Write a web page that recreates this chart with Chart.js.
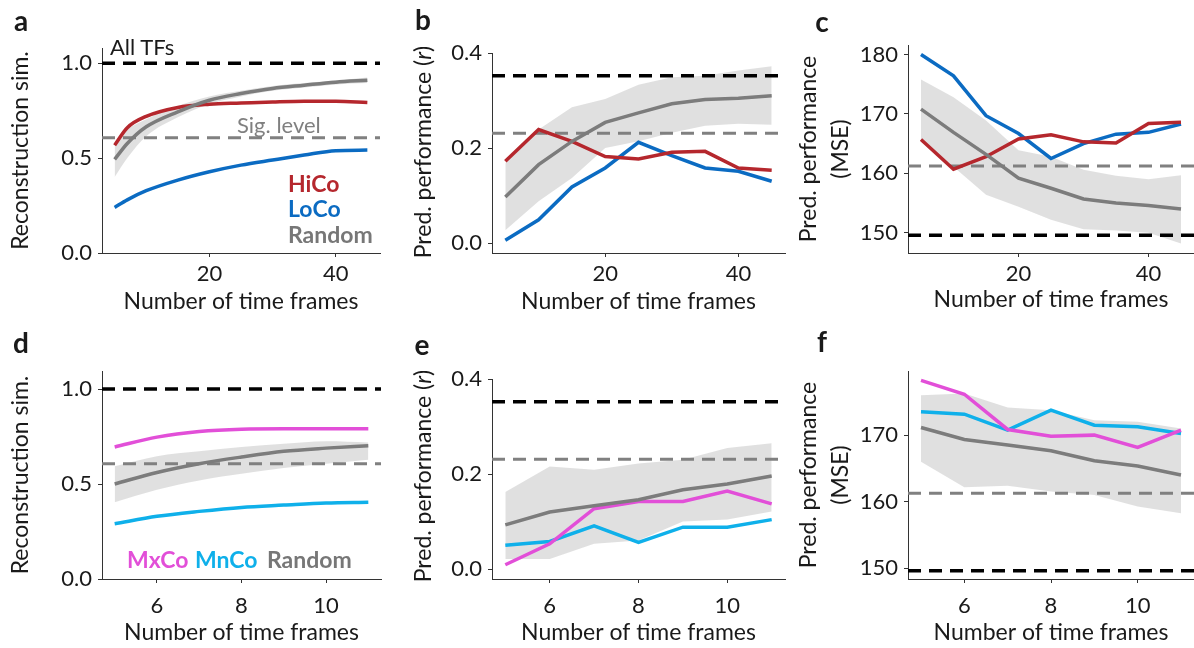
<!DOCTYPE html>
<html>
<head>
<meta charset="utf-8">
<script src="https://cdn.jsdelivr.net/npm/chart.js@4.4.1/dist/chart.umd.min.js"></script>
<style>
  body { margin: 0; width: 1194px; height: 648px; background: #fff; position: relative; overflow: hidden; font-family: Lato, sans-serif; color: #1a1a1a; }
  canvas { position: absolute; }
  .t { position: absolute; line-height: 1; white-space: nowrap; transform: translate(0, -50%); font-size: 22px; }
  .letter { font-weight: bold; font-size: 28px; transform: translate(-50%, -50%); }
  .bold { font-weight: bold; font-size: 23px; }
  .ytitle { transform: translate(-50%, -50%) rotate(-90deg); font-size: 23px; }
</style>
</head>
<body>
<canvas id="pa" width="390" height="320" style="left:0;top:0"></canvas>
<canvas id="pb" width="400" height="320" style="left:390px;top:0"></canvas>
<canvas id="pc" width="404" height="320" style="left:790px;top:0"></canvas>
<canvas id="pd" width="390" height="328" style="left:0;top:320px"></canvas>
<canvas id="pe" width="400" height="328" style="left:390px;top:320px"></canvas>
<canvas id="pf" width="404" height="328" style="left:790px;top:320px"></canvas>

<div class="t letter" style="left:21px;top:20px">a</div>
<div class="t letter" style="left:423px;top:19px">b</div>
<div class="t letter" style="left:822px;top:21px">c</div>
<div class="t letter" style="left:21px;top:342px">d</div>
<div class="t letter" style="left:422px;top:344px">e</div>
<div class="t letter" style="left:822px;top:341px">f</div>

<div class="t" style="left:110px;top:47px">All TFs</div>
<div class="t" style="left:237px;top:125px;color:#808080">Sig. level</div>
<div class="t bold" style="left:288px;top:183px;color:#B5272D">HiCo</div>
<div class="t bold" style="left:288px;top:208px;color:#0B6BC2">LoCo</div>
<div class="t bold" style="left:288px;top:234px;color:#777">Random</div>
<div class="t bold" style="left:127px;top:559px;color:#E24FD8">MxCo</div>
<div class="t bold" style="left:195px;top:559px;color:#0FB0EA">MnCo</div>
<div class="t bold" style="left:267px;top:559px;color:#777">Random</div>

<div class="t ytitle" style="left:422px;top:152px">Pred. performance (<i>r</i>)</div>
<div class="t ytitle" style="left:422px;top:476px">Pred. performance (<i>r</i>)</div>

<script>
// x positions
const xTop = [5, 10, 15, 20, 25, 30, 35, 40, 45];
const xSmooth = [5, 7, 10, 15, 20, 25, 30, 35, 40, 45];
const xBot = [5, 6, 7, 8, 9, 10, 11];

// a: reconstruction similarity, all TFs
const simHiCo = [0.568, 0.66, 0.72, 0.767, 0.784, 0.79, 0.796, 0.8, 0.8, 0.793];
const simLoCo = [0.24, 0.28, 0.328, 0.384, 0.428, 0.463, 0.49, 0.516, 0.539, 0.542];
const simRand = [0.493, 0.577, 0.665, 0.744, 0.805, 0.84, 0.867, 0.884, 0.9, 0.91];
const simRandHi = [0.58, 0.65, 0.705, 0.775, 0.825, 0.855, 0.88, 0.895, 0.91, 0.925];
const simRandLo = [0.40, 0.50, 0.615, 0.715, 0.785, 0.825, 0.855, 0.872, 0.888, 0.895];

// b: prediction r
const rHiCo = [0.172, 0.239, 0.214, 0.182, 0.177, 0.191, 0.193, 0.158, 0.153];
const rLoCo = [0.006, 0.049, 0.118, 0.158, 0.212, 0.184, 0.158, 0.151, 0.130];
const rRand = [0.097, 0.165, 0.214, 0.254, 0.274, 0.293, 0.302, 0.305, 0.31];
const rRandHi = [0.168, 0.239, 0.286, 0.303, 0.333, 0.349, 0.352, 0.363, 0.372];
const rRandLo = [0.027, 0.088, 0.137, 0.2, 0.214, 0.232, 0.247, 0.251, 0.249];

// c: prediction MSE
const mseHiCo = [165.7, 160.7, 162.8, 165.8, 166.5, 165.3, 165.1, 168.4, 168.6];
const mseLoCo = [180, 176.4, 169.7, 166.7, 162.5, 165, 166.6, 166.9, 168.3];
const mseRand = [170.8, 166.9, 163.2, 159.2, 157.5, 155.7, 155, 154.6, 154];
const mseRandHi = [175.8, 172.8, 168.9, 163.9, 162.8, 160.6, 159.6, 159, 159.7];
const mseRandLo = [165.6, 161.1, 156.4, 154.4, 152.2, 150.6, 150.4, 150, 148.2];

// d
const simMxCo = [0.695, 0.747, 0.777, 0.789, 0.791, 0.791, 0.791];
const simMnCo = [0.291, 0.33, 0.356, 0.377, 0.389, 0.4, 0.404];
const simRand2 = [0.5, 0.561, 0.607, 0.642, 0.672, 0.689, 0.702];
const simRand2Hi = [0.593, 0.646, 0.672, 0.695, 0.712, 0.725, 0.719];
const simRand2Lo = [0.404, 0.47, 0.519, 0.554, 0.584, 0.607, 0.628];

// e
const rMxCo = [0.009, 0.053, 0.127, 0.142, 0.142, 0.164, 0.137];
const rMnCo = [0.05, 0.058, 0.091, 0.056, 0.088, 0.088, 0.104];
const rRand2 = [0.093, 0.12, 0.133, 0.146, 0.167, 0.179, 0.196];
const rRand2Hi = [0.162, 0.216, 0.209, 0.222, 0.23, 0.255, 0.265];
const rRand2Lo = [0.021, 0.021, 0.053, 0.06, 0.1, 0.104, 0.121];

// f
const mseMxCo = [178.25, 176.15, 170.85, 169.85, 170, 168.15, 170.75];
const mseMnCo = [173.5, 173.15, 170.75, 173.75, 171.5, 171.25, 170.25];
const mseRand2 = [171.15, 169.35, 168.5, 167.65, 166.15, 165.35, 164];
const mseRand2Hi = [176, 176.25, 174.15, 173.75, 172.25, 172, 171];
const mseRand2Lo = [166, 162.15, 162.4, 161.5, 161, 159.25, 158.25];

// reference levels (all TFs / significance)
const allTfSim = 1.0, sigSim = 0.607;
const allTfR = 0.352, sigR = 0.231;
const allTfMse = 149.6, sigMse = 161.25;

// ticks
const simTicks = [0, 0.5, 1.0];
const rTicks = [0, 0.2, 0.4];
const mseTicksC = [150, 160, 170, 180];
const mseTicksF = [150, 160, 170];
const xTicksTop = [20, 40];
const xTicksBot = [6, 8, 10];

const RED = '#B5272D', BLUE = '#0B6BC2', GREY = '#7C7C7C', MAG = '#E24FD8', CYAN = '#0FB0EA';
const BAND = 'rgba(140,140,140,0.27)';
const FONT = { family: 'Lato', size: 22 };
const TITLE_FONT = { family: 'Lato', size: 23, lineHeight: 1.4 };

const zip = (xs, ys) => xs.map((x, i) => ({ x: x, y: ys[i] }));

function line(xs, ys, color, smooth) {
  return { data: zip(xs, ys), borderColor: color, borderWidth: 3.5, fill: false,
    cubicInterpolationMode: smooth ? 'monotone' : 'default', order: 1 };
}
function band(xs, hi, lo, smooth) {
  const mode = smooth ? 'monotone' : 'default';
  return [
    { data: zip(xs, hi), borderWidth: 0, borderColor: 'rgba(0,0,0,0)', backgroundColor: BAND, fill: '+1', cubicInterpolationMode: mode, order: 10 },
    { data: zip(xs, lo), borderWidth: 0, borderColor: 'rgba(0,0,0,0)', fill: false, cubicInterpolationMode: mode, order: 10 }
  ];
}
function hline(y, color, width, x0, x1) {
  return { data: [{ x: x0, y: y }, { x: x1, y: y }], borderColor: color, borderWidth: width,
    borderDash: [13, 8], fill: false, order: 5 };
}

function makePanel(p) {
  const yW = p.plot.l - p.left, padTop = p.plot.t - p.top;
  const padRight = p.left + p.w - p.plot.r, xH = p.top + p.h - p.plot.b;
  new Chart(document.getElementById(p.id), {
    type: 'line',
    data: { datasets: p.datasets },
    options: {
      responsive: false,
      animation: false,
      layout: { padding: { top: padTop, right: padRight, left: 0, bottom: 0 } },
      elements: { point: { radius: 0 } },
      plugins: { legend: { display: false }, tooltip: { enabled: false } },
      scales: {
        x: {
          type: 'linear', min: p.x[0], max: p.x[1],
          afterBuildTicks: s => { s.ticks = p.xt.map(v => ({ value: v })); },
          afterFit: s => { s.height = xH; },
          grid: { display: true, drawOnChartArea: false, drawTicks: true, tickLength: 4, tickColor: '#333' },
          border: { display: true, color: '#333', width: 1 },
          ticks: { font: FONT, color: '#1a1a1a', padding: p.xTickPad, maxRotation: 0, autoSkip: false, callback: v => String(v) },
          title: { display: true, text: 'Number of time frames', font: TITLE_FONT, color: '#1a1a1a', padding: { top: 0, bottom: p.xTitlePad } }
        },
        y: {
          type: 'linear', min: p.y[0], max: p.y[1],
          afterBuildTicks: s => { s.ticks = p.yt.map(v => ({ value: v })); },
          afterFit: s => { s.width = yW; },
          grid: { display: true, drawOnChartArea: false, drawTicks: true, tickLength: 4, tickColor: '#333' },
          border: { display: true, color: '#333', width: 1 },
          ticks: { font: FONT, color: '#1a1a1a', padding: 6, autoSkip: false, callback: v => v.toFixed(p.yDec) },
          title: { display: !!p.yTitle, text: p.yTitle || '', font: TITLE_FONT, color: '#1a1a1a', padding: { top: p.yTitlePad, bottom: 0 } }
        }
      }
    }
  });
}

Chart.defaults.font.family = 'Lato';

makePanel({
  id: 'pa', left: 0, top: 0, w: 390, h: 320, plot: { l: 102, r: 380, t: 48, b: 253 },
  x: [3, 47], y: [0, 1.08], xt: xTicksTop, yt: simTicks, yDec: 1,
  yTitle: 'Reconstruction sim.', yTitlePad: 4, xTickPad: 4, xTitlePad: 2,
  datasets: [
    ...band(xSmooth, simRandHi, simRandLo, true),
    hline(allTfSim, '#000', 3.5, 3, 47),
    hline(sigSim, '#808080', 3, 3, 47),
    line(xSmooth, simRand, GREY, true),
    line(xSmooth, simHiCo, RED, true),
    line(xSmooth, simLoCo, BLUE, true)
  ]
});

makePanel({
  id: 'pb', left: 390, top: 0, w: 400, h: 320, plot: { l: 492, r: 785, t: 53, b: 253 },
  x: [3, 47], y: [-0.021, 0.4], xt: xTicksTop, yt: rTicks, yDec: 1,
  yTitle: null, xTickPad: 4, xTitlePad: 2,
  datasets: [
    ...band(xTop, rRandHi, rRandLo, false),
    hline(allTfR, '#000', 3.5, 3, 47),
    hline(sigR, '#808080', 3, 3, 47),
    line(xTop, rRand, GREY, false),
    line(xTop, rHiCo, RED, false),
    line(xTop, rLoCo, BLUE, false)
  ]
});

makePanel({
  id: 'pc', left: 790, top: 0, w: 404, h: 320, plot: { l: 908, r: 1194, t: 45, b: 253 },
  x: [3, 47], y: [146.6, 181.6], xt: xTicksTop, yt: mseTicksC, yDec: 0,
  yTitle: ['Pred. performance', '(MSE)'], yTitlePad: 2, xTickPad: 4, xTitlePad: 4,
  datasets: [
    ...band(xTop, mseRandHi, mseRandLo, false),
    hline(allTfMse, '#000', 3.5, 3, 47),
    hline(sigMse, '#808080', 3, 3, 47),
    line(xTop, mseRand, GREY, false),
    line(xTop, mseHiCo, RED, false),
    line(xTop, mseLoCo, BLUE, false)
  ]
});

makePanel({
  id: 'pd', left: 0, top: 320, w: 390, h: 328, plot: { l: 102, r: 381, t: 371, b: 579 },
  x: [4.7, 11.3], y: [0, 1.095], xt: xTicksBot, yt: simTicks, yDec: 1,
  yTitle: 'Reconstruction sim.', yTitlePad: 4, xTickPad: 10, xTitlePad: -1,
  datasets: [
    ...band(xBot, simRand2Hi, simRand2Lo, true),
    hline(allTfSim, '#000', 3.5, 4.7, 11.3),
    hline(sigSim, '#808080', 3, 4.7, 11.3),
    line(xBot, simRand2, GREY, true),
    line(xBot, simMxCo, MAG, true),
    line(xBot, simMnCo, CYAN, true)
  ]
});

makePanel({
  id: 'pe', left: 390, top: 320, w: 400, h: 328, plot: { l: 492, r: 785, t: 379, b: 579 },
  x: [4.7, 11.3], y: [-0.021, 0.4], xt: xTicksBot, yt: rTicks, yDec: 1,
  yTitle: null, xTickPad: 10, xTitlePad: -1,
  datasets: [
    ...band(xBot, rRand2Hi, rRand2Lo, false),
    hline(allTfR, '#000', 3.5, 4.7, 11.3),
    hline(sigR, '#808080', 3, 4.7, 11.3),
    line(xBot, rRand2, GREY, false),
    line(xBot, rMxCo, MAG, false),
    line(xBot, rMnCo, CYAN, false)
  ]
});

makePanel({
  id: 'pf', left: 790, top: 320, w: 404, h: 328, plot: { l: 908, r: 1194, t: 371, b: 579 },
  x: [4.7, 11.3], y: [148.35, 179.65], xt: xTicksBot, yt: mseTicksF, yDec: 0,
  yTitle: ['Pred. performance', '(MSE)'], yTitlePad: 2, xTickPad: 10, xTitlePad: -1,
  datasets: [
    ...band(xBot, mseRand2Hi, mseRand2Lo, false),
    hline(allTfMse, '#000', 3.5, 4.7, 11.3),
    hline(sigMse, '#808080', 3, 4.7, 11.3),
    line(xBot, mseRand2, GREY, false),
    line(xBot, mseMxCo, MAG, false),
    line(xBot, mseMnCo, CYAN, false)
  ]
});
</script>
</body>
</html>
